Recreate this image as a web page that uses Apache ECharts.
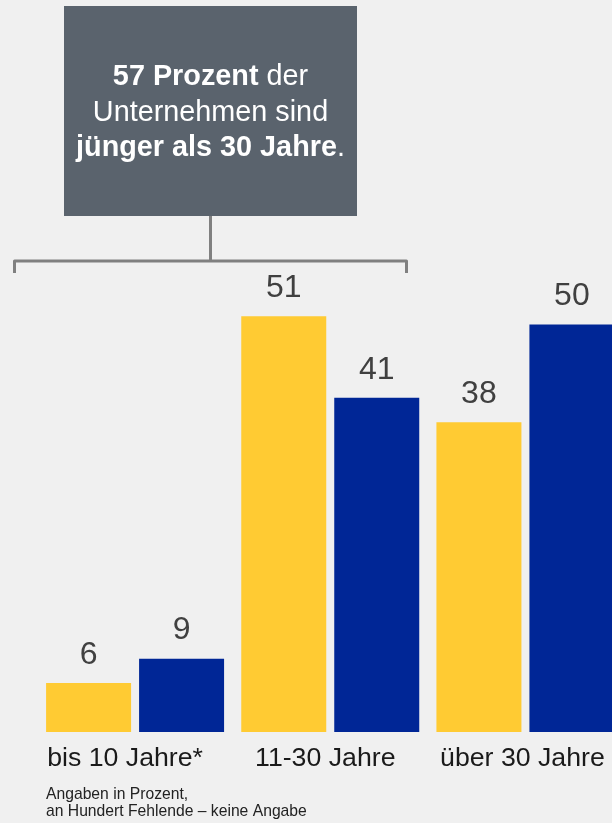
<!DOCTYPE html>
<html>
<head>
<meta charset="utf-8">
<script src="https://cdn.jsdelivr.net/npm/echarts@6/dist/echarts.min.js"></script>
<style>
  html, body { margin: 0; padding: 0; background: #f0f0f0; overflow: hidden; }
  /* the last bar runs past the right edge of the page */
  #chart { width: 623px; height: 823px; }
</style>
</head>
<body>
<div id="chart"></div>
<script>
// Alter der Unternehmen – Anteile in Prozent
const categories = ['bis 10 Jahre*', '11-30 Jahre', 'über 30 Jahre'];
const seriesYellow = [6, 51, 38];
const seriesBlue = [9, 41, 50];

// horizontal nudge of each category caption (px, negative = left)
const captionShift = [-10, -5, -3];

const FONT = '"Liberation Sans", Arial, Helvetica, sans-serif';
const YELLOW = '#ffcb33';
const BLUE = '#002696';

const chart = echarts.init(document.getElementById('chart'), null, { renderer: 'canvas' });

const valueLabel = {
  show: true,
  position: 'top',
  distance: 12,
  color: '#404040',
  fontFamily: FONT,
  fontSize: 32
};

const axisData = categories.map((name, i) => {
  const s = captionShift[i];
  return {
    value: name,
    textStyle: { padding: s < 0 ? [0, -2 * s, 0, 0] : [0, 0, 0, 2 * s] }
  };
});

chart.setOption({
  backgroundColor: '#f0f0f0',
  animation: false,
  grid: { left: 37.5, right: 0, top: 243, bottom: 91 },
  xAxis: {
    type: 'category',
    data: axisData,
    axisLine: { show: false },
    axisTick: { show: false },
    axisLabel: {
      color: '#1a1a1a',
      fontFamily: FONT,
      fontSize: 26.7,
      margin: 13.5,
      interval: 0
    }
  },
  yAxis: {
    type: 'value',
    min: 0,
    max: 60,
    show: false
  },
  series: [
    {
      name: 'Gruppe A',
      type: 'bar',
      data: seriesYellow,
      barWidth: 85,
      barGap: '9.4%',
      itemStyle: { color: YELLOW },
      label: valueLabel
    },
    {
      name: 'Gruppe B',
      type: 'bar',
      data: seriesBlue,
      barWidth: 85,
      barGap: '9.4%',
      itemStyle: { color: BLUE },
      label: valueLabel
    }
  ],
  graphic: [
    // Hinweisbox
    {
      type: 'rect',
      shape: { x: 64, y: 6, width: 293, height: 210 },
      style: { fill: '#5a636d' }
    },
    {
      type: 'text',
      x: 210.5,
      y: 113,
      style: {
        text: '{b|57 Prozent }{n|der}\n{n|Unternehmen sind}\n{b|jünger als 30 Jahre}{n|.}',
        align: 'center',
        verticalAlign: 'middle',
        rich: {
          b: { fontFamily: FONT, fontSize: 28.8, fontWeight: 'bold', fill: '#ffffff', lineHeight: 35.5 },
          n: { fontFamily: FONT, fontSize: 28.8, fill: '#ffffff', lineHeight: 35.5 }
        }
      }
    },
    // Klammer unter der Box
    {
      type: 'polyline',
      shape: { points: [[210.5, 216], [210.5, 261]] },
      style: { stroke: '#808080', lineWidth: 3, fill: null }
    },
    {
      type: 'polyline',
      shape: { points: [[14.5, 273], [14.5, 261], [406.5, 261], [406.5, 273]] },
      style: { stroke: '#808080', lineWidth: 3, fill: null, lineJoin: 'round' }
    },
    // Fußnote
    {
      type: 'text',
      x: 46,
      y: 786,
      style: {
        text: 'Angaben in Prozent,\nan Hundert Fehlende – keine Angabe',
        fontFamily: FONT,
        fontSize: 15.7,
        lineHeight: 17,
        fill: '#222222',
        align: 'left',
        verticalAlign: 'top'
      }
    }
  ]
});
</script>
</body>
</html>
